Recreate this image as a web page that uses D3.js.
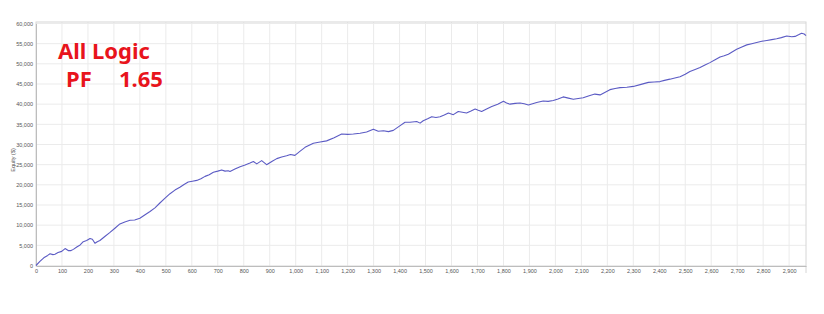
<!DOCTYPE html>
<html>
<head>
<meta charset="utf-8">
<script src="https://cdn.jsdelivr.net/npm/d3@7"></script>
<style>
  body { margin: 0; background: #fff; }
  .tick text { font-family: "Liberation Sans", Arial, sans-serif; font-size: 5.5px; fill: #555; }
</style>
</head>
<body>
<div id="chart"></div>
<script>

// trade number vs equity
const trades = [0, 15, 30, 45, 54, 65, 73, 85, 99, 112, 124, 135, 144, 157, 170, 182, 195, 208, 217, 227, 236, 246, 265, 285, 305, 323, 342, 362, 380, 400, 420, 439, 458, 477, 497, 516, 535, 554, 570, 586, 602, 619, 635, 651, 667, 683, 700, 715, 728, 740, 747, 766, 786, 805, 824, 837, 850, 869, 888, 908, 927, 946, 965, 980, 997, 1016, 1036, 1052, 1068, 1094, 1119, 1148, 1177, 1200, 1222, 1248, 1273, 1299, 1318, 1338, 1357, 1376, 1398, 1421, 1440, 1466, 1479, 1491, 1508, 1524, 1540, 1556, 1572, 1588, 1607, 1626, 1642, 1658, 1675, 1691, 1703, 1716, 1735, 1755, 1778, 1800, 1812, 1825, 1845, 1864, 1880, 1896, 1912, 1928, 1953, 1972, 1992, 2010, 2030, 2050, 2069, 2088, 2107, 2130, 2152, 2172, 2190, 2210, 2230, 2249, 2275, 2300, 2330, 2358, 2380, 2403, 2420, 2441, 2460, 2480, 2500, 2518, 2538, 2557, 2576, 2595, 2615, 2634, 2650, 2666, 2682, 2698, 2718, 2737, 2756, 2775, 2795, 2814, 2833, 2852, 2870, 2891, 2910, 2923, 2936, 2948, 2958, 2965]
const equity = [0, 1000, 1900, 2500, 2900, 2700, 2800, 3200, 3500, 4200, 3700, 3700, 4000, 4600, 5100, 5900, 6200, 6700, 6500, 5500, 5900, 6200, 7200, 8200, 9300, 10300, 10800, 11200, 11300, 11700, 12600, 13400, 14300, 15500, 16700, 17800, 18700, 19400, 20100, 20700, 20900, 21100, 21500, 22100, 22500, 23100, 23400, 23700, 23400, 23500, 23300, 23900, 24500, 24900, 25400, 25800, 25200, 26000, 25000, 25800, 26500, 26900, 27200, 27500, 27300, 28300, 29300, 29800, 30300, 30600, 30900, 31700, 32600, 32500, 32600, 32800, 33100, 33800, 33300, 33400, 33200, 33500, 34500, 35500, 35500, 35700, 35300, 35900, 36400, 36900, 36700, 36900, 37300, 37800, 37400, 38200, 38000, 37800, 38300, 38800, 38500, 38200, 38800, 39400, 40000, 40700, 40300, 40000, 40200, 40300, 40100, 39800, 40100, 40400, 40800, 40700, 40900, 41300, 41800, 41500, 41200, 41400, 41600, 42100, 42500, 42300, 42900, 43600, 43900, 44100, 44200, 44400, 44900, 45400, 45500, 45600, 45900, 46200, 46500, 46800, 47400, 48100, 48600, 49100, 49700, 50300, 51000, 51700, 52000, 52400, 53000, 53600, 54200, 54700, 55000, 55300, 55600, 55800, 56000, 56200, 56500, 56900, 56700, 56800, 57200, 57600, 57400, 57000]

const xTicks = d3.range(0, 3000, 100)
const yTicks = d3.range(0, 60001, 5000)

const W = 824, H = 314
const plot = { left: 36, right: 806, top: 22, bottom: 266 }

const x = d3.scaleLinear().domain([0, 2965]).range([plot.left, plot.right])
const y = d3.scaleLinear().domain([0, 60000]).range([265.5, 23.5])

const svg = d3.select('#chart').append('svg').attr('width', W).attr('height', H)

// grid
svg.append('g').selectAll('line.gx').data(xTicks.slice(1)).enter().append('line')
  .attr('x1', d => x(d)).attr('x2', d => x(d))
  .attr('y1', plot.top).attr('y2', plot.bottom)
  .attr('stroke', '#ebebeb').attr('stroke-width', 1)

svg.append('g').selectAll('line.gy').data(yTicks.slice(1)).enter().append('line')
  .attr('x1', plot.left).attr('x2', plot.right)
  .attr('y1', d => y(d)).attr('y2', d => y(d))
  .attr('stroke', '#ebebeb').attr('stroke-width', 1)

// frame
svg.append('rect')
  .attr('x', plot.left).attr('y', plot.top)
  .attr('width', plot.right - plot.left).attr('height', plot.bottom - plot.top)
  .attr('fill', 'none').attr('stroke', '#d6d6d6')
svg.append('line')
  .attr('x1', plot.right).attr('x2', plot.right).attr('y1', plot.bottom).attr('y2', 273)
  .attr('stroke', '#d6d6d6')

// axes
const fmt = d3.format(',')
const axisBottom = d3.axisBottom(x).tickValues(xTicks).tickFormat(fmt).tickSize(0).tickPadding(3)
const axisLeft = d3.axisLeft(y).tickValues(yTicks).tickFormat(fmt).tickSize(0).tickPadding(3)

svg.append('g').attr('transform', `translate(0,${plot.bottom})`).call(axisBottom)
  .call(g => g.select('.domain').attr('stroke', '#bdbdbd'))
svg.append('g').attr('transform', `translate(${plot.left},0)`).call(axisLeft)
  .call(g => g.select('.domain').attr('stroke', '#bdbdbd'))

svg.append('text')
  .attr('transform', 'translate(15,160) rotate(-90)')
  .attr('text-anchor', 'middle')
  .style('font-family', '"Liberation Sans", Arial, sans-serif')
  .style('font-size', '5.5px').attr('fill', '#555')
  .text('Equity ($)')

// equity line
const line = d3.line().x((d, i) => x(trades[i])).y(d => y(d))
svg.append('path').datum(equity)
  .attr('d', line)
  .attr('fill', 'none')
  .attr('stroke', '#5b5bc4')
  .attr('stroke-width', 1.1)
  .attr('stroke-linejoin', 'round')

// annotation
const note = svg.append('g')
  .style('font-family', '"Noto Sans", "DejaVu Sans", sans-serif')
  .style('font-weight', 'bold').style('font-size', '22px')
  .attr('fill', '#e8141c')
note.append('text').attr('x', 58).attr('y', 59).text('All Logic')
note.append('text').attr('x', 66).attr('y', 87).text('PF')
note.append('text').attr('x', 119).attr('y', 87).text('1.65')

</script>
</body>
</html>
